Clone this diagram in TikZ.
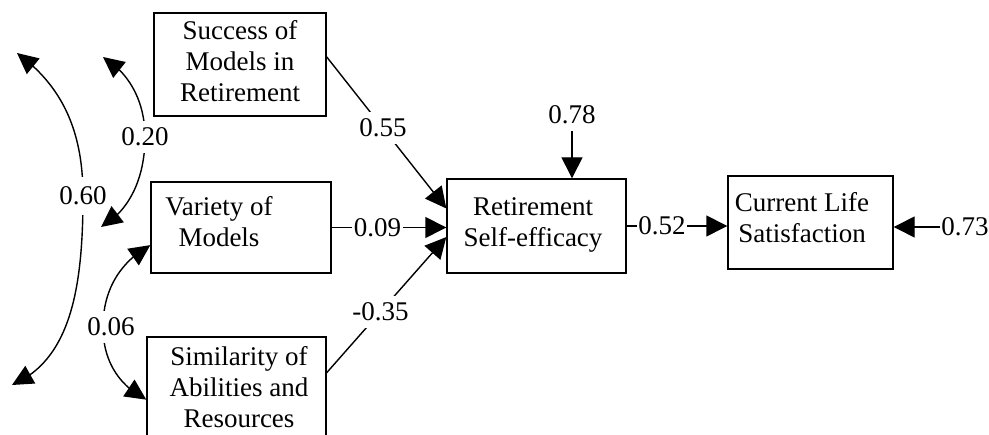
\documentclass[tikz,border=0pt]{standalone}
\usepackage{fontspec}
\setmainfont{Liberation Serif}
\usetikzlibrary{arrows.meta, bending}
\tikzstyle{link} = [draw, -{Triangle[length=21pt,width=21pt]}, line width=1.4pt]
\tikzstyle{corr} = [draw, {Triangle[length=21pt,width=20pt]}-{Triangle[length=21pt,width=20pt]}, line width=1.4pt]

\begin{document}
\begin{tikzpicture}[x=1pt, y=-1pt, font=\fontsize{27}{31}\selectfont]
  \tikzset{
    box/.style={draw, line width=1.4pt, inner sep=0pt},
    boxtext/.style={align=center, inner sep=0pt},
    coef/.style={fill=white, inner xsep=1.5pt, inner ysep=7pt}
  }
  \useasboundingbox (0,0) rectangle (989,435);

  \node[box, minimum width=172pt, minimum height=103pt,
    label={[boxtext, yshift=3.5pt]center:{Success of\\Models in\\Retirement}}] (success) at (240,64.5) {};
  \node[box, minimum width=180pt, minimum height=91pt,
    label={[boxtext, xshift=-22pt, yshift=5.5pt]center:{Variety of\\Models}}] (variety) at (241,227.5) {};
  \node[box, minimum width=179pt, minimum height=100pt,
    label={[boxtext, xshift=2.5pt]center:{Similarity of\\Abilities and\\Resources}}] (similarity) at (236.5,387) {};
  \node[box, minimum width=179pt, minimum height=94pt,
    label={[boxtext, xshift=-3.5pt, yshift=1pt]center:{Retirement\\Self-efficacy}}] (selfeff) at (536.5,226) {};
  \node[box, minimum width=165pt, minimum height=93pt,
    label={[boxtext, xshift=-8.5pt, yshift=4.5pt]center:{Current Life\\Satisfaction}}] (satisf) at (810.5,222.5) {};

  \node[coef] (err1) at (572,115) {0.78};
  \node[coef] (err2) at (965,227) {0.73};

  \coordinate (cor60a) at (17,53);
  \coordinate (cor60b) at (12,385);
  \coordinate (cor20a) at (103,57);
  \coordinate (cor20b) at (101,227);

  \draw[link] (success.5) -- node[coef, pos=.47]{0.55} (selfeff.169);
  \draw[link] (variety.east) -- node[coef, pos=.4]{0.09} (variety.east -| selfeff.west);
  \draw[link] (similarity.9.5) -- node[coef, pos=.45]{-0.35} (selfeff.187);
  \draw[link] (selfeff.east) -- node[coef, pos=.35]{0.52} (selfeff.east -| satisf.west);
  \draw[link] (err1) -- (err1 |- selfeff.north);
  \draw[link] (err2) -- (err2 -| satisf.east);

  \path[corr] (cor60a) .. controls (65,88) and (83,135) .. (83,196) node[coef, inner ysep=10pt]{0.60}
    .. controls (83,290) and (70,360) .. (cor60b);
  \path[corr] (cor20a) .. controls (128,72) and (145,100) .. (145,137) node[coef]{0.20}
    .. controls (145,180) and (128,212) .. (cor20b);
  \path[corr] (variety.191) .. controls (120,262) and (103,290) .. (103,327) node[coef, xshift=8pt]{0.06}
    .. controls (103,360) and (118,385) .. (similarity.188);

\end{tikzpicture}
\end{document}
